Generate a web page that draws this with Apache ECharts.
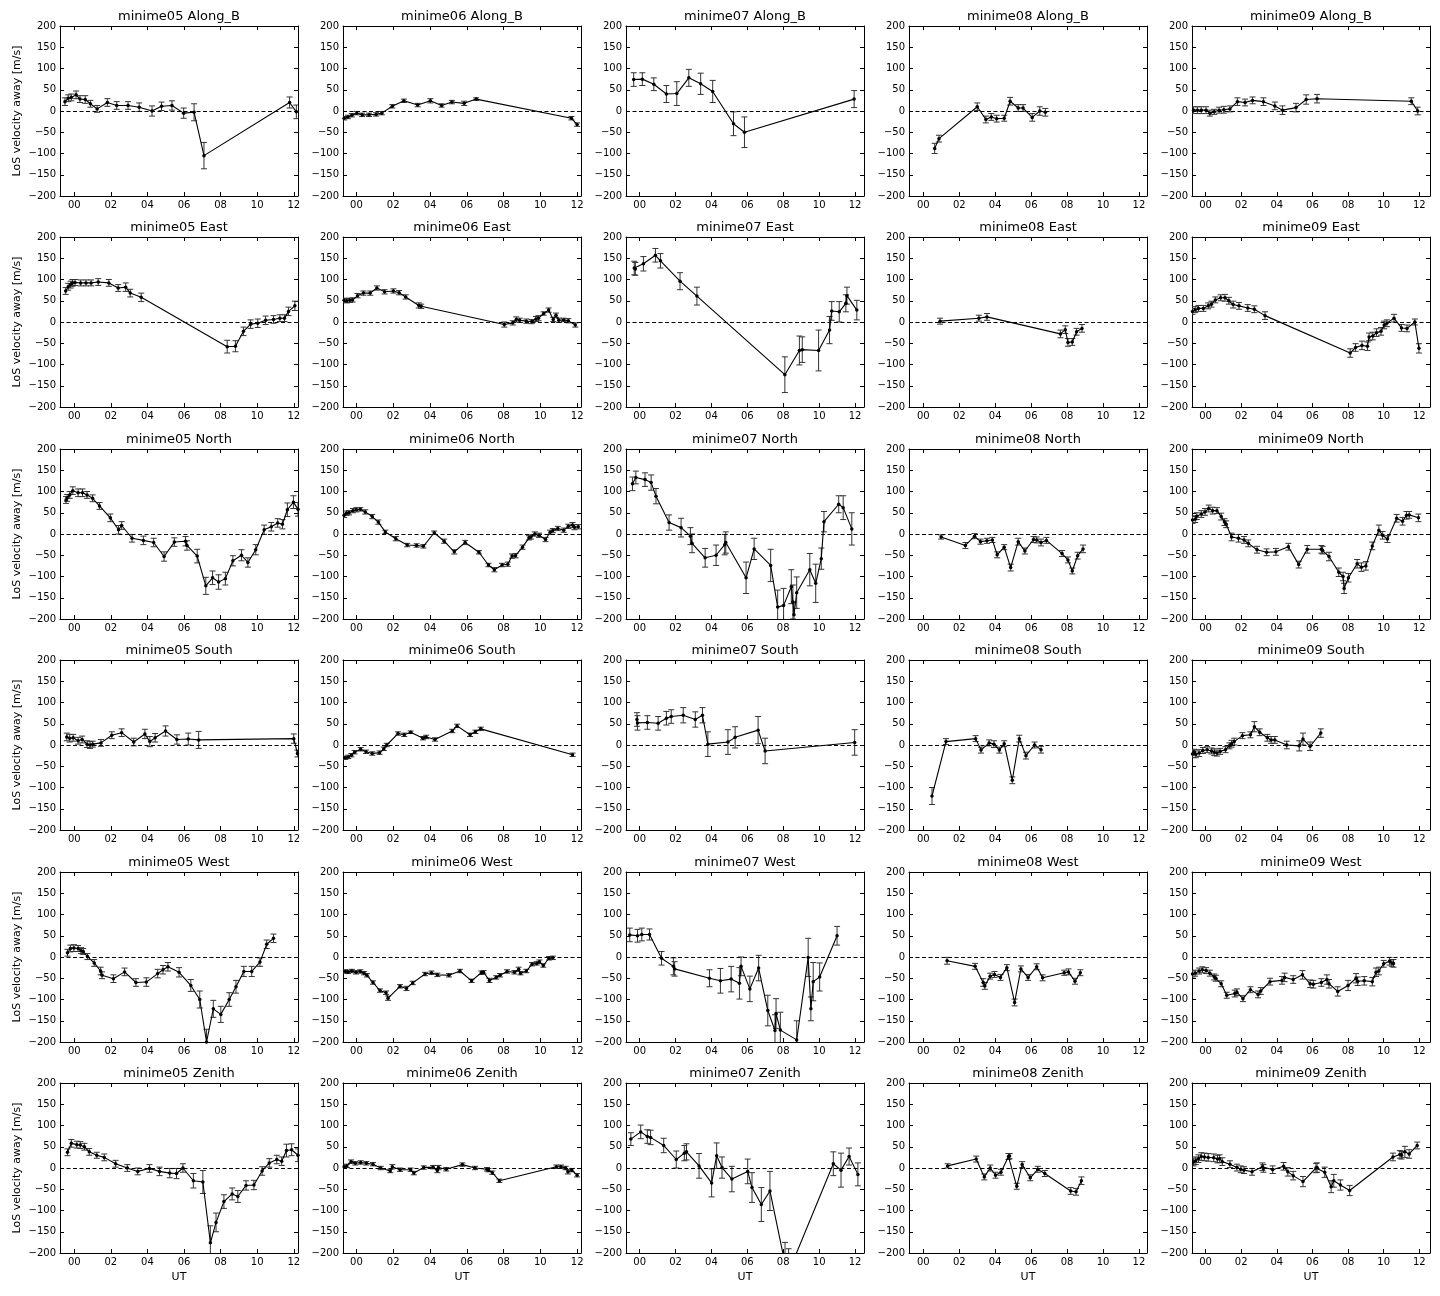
<!DOCTYPE html>
<html><head><meta charset="utf-8">
<script src="https://cdn.jsdelivr.net/npm/echarts@6/dist/echarts.min.js"></script>
<style>html,body{margin:0;padding:0;background:#fff}#c{width:1440px;height:1296px}</style>
</head><body><div id="c"></div>
<script>
const stations = ['minime05','minime06','minime07','minime08','minime09'];
const directions = ['Along_B','East','North','South','West','Zenith'];
const xTicks = [0,2,4,6,8,10,12];
const yMin = -200, yMax = 200, yStep = 50;

// [UT hour, LoS velocity m/s, error m/s]
const m05_Along_B = [[-0.51,22,9],[-0.33,30,8],[-0.16,32,8],[0.10,38,9],[0.31,28,8],[0.60,27,9],[0.88,17,8],[1.25,5,8],[1.81,20,9],[2.32,13,9],[2.94,13,9],[3.55,9,10],[4.25,0,12],[4.77,11,10],[5.34,13,11],[5.98,-5,12],[6.55,-3,20],[7.09,-105,31],[11.77,20,13],[12.14,-2,16]];
const m06_Along_B = [[-0.67,-17,4],[-0.46,-14,4],[-0.25,-10,4],[0.02,-5,4],[0.31,-9,4],[0.69,-9,4],[1.07,-8,4],[1.38,-5,4],[1.95,11,4],[2.58,24,4],[3.33,14,4],[4.02,24,5],[4.63,13,4],[5.19,21,4],[5.86,18,5],[6.51,28,3],[11.69,-17,4],[12.0,-32,4]];
const m07_Along_B = [[-0.33,74,16],[0.15,75,15],[0.79,63,15],[1.49,40,20],[2.07,41,28],[2.74,78,20],[3.4,64,25],[4.07,46,26],[5.23,-30,28],[5.84,-50,36],[11.95,28,20]];
const m08_Along_B = [[0.63,-88,12],[0.87,-65,8],[3.0,10,9],[3.48,-20,8],[3.78,-14,8],[4.08,-18,8],[4.5,-17,7],[4.83,23,9],[5.28,7,8],[5.55,7,8],[6.06,-15,9],[6.48,0,10],[6.79,-3,9]];
const m09_Along_B = [[-0.67,2,8],[-0.46,2,8],[-0.24,2,8],[0.03,2,8],[0.24,-5,7],[0.49,-2,6],[0.76,2,7],[1.03,3,8],[1.37,5,7],[1.79,22,9],[2.22,20,8],[2.64,25,8],[3.25,22,9],[3.89,12,9],[4.32,2,10],[5.08,8,10],[5.65,27,11],[6.26,29,10],[11.55,23,8],[11.91,0,9]];

const m05_East = [[-0.47,73,8],[-0.33,83,8],[-0.2,88,8],[-0.1,92,8],[0.04,93,7],[0.35,92,7],[0.64,92,7],[0.92,92,7],[1.31,94,8],[1.89,92,8],[2.4,80,8],[2.81,82,10],[3.06,68,9],[3.66,58,10],[8.36,-58,15],[8.81,-57,13],[9.25,-22,10],[9.64,-5,10],[10.03,-3,10],[10.46,4,10],[10.89,6,9],[11.24,9,8],[11.49,9,8],[11.71,25,10],[12.06,38,11]];
const m06_East = [[-0.67,51,5],[-0.52,50,5],[-0.36,51,5],[-0.21,52,5],[0.06,62,5],[0.38,68,5],[0.75,68,5],[1.11,80,5],[1.53,71,5],[2.01,73,5],[2.32,69,5],[2.68,59,5],[3.39,39,6],[3.52,37,5],[8.04,-6,6],[8.5,-2,5],[8.69,6,6],[8.88,4,5],[9.24,2,5],[9.53,1,5],[9.76,7,6],[9.9,9,6],[10.18,20,4],[10.45,28,5],[10.7,6,5],[10.85,16,5],[11.0,4,5],[11.27,5,4],[11.52,3,5],[11.9,-7,5]];
const m07_East = [[-0.3,127,16],[-0.24,125,15],[0.21,137,17],[0.88,157,16],[1.16,144,17],[2.25,96,20],[3.19,61,21],[8.09,-124,42],[8.9,-67,34],[9.06,-65,30],[9.97,-67,48],[10.58,-19,32],[10.7,26,22],[11.12,24,24],[11.49,44,20],[11.55,62,20],[12.1,28,23]];
const m08_East = [[0.93,2,7],[3.09,9,7],[3.54,12,8],[7.63,-28,9],[7.9,-18,9],[8.05,-48,9],[8.29,-47,8],[8.53,-23,8],[8.83,-15,9]];
const m09_East = [[-0.73,25,7],[-0.58,29,7],[-0.4,32,7],[-0.12,32,7],[0.15,38,7],[0.33,42,7],[0.55,52,7],[0.85,57,7],[1.09,57,8],[1.31,50,8],[1.55,41,8],[1.88,38,8],[2.37,33,8],[2.74,30,8],[3.34,15,9],[8.12,-73,10],[8.42,-60,9],[8.78,-55,10],[9.09,-57,10],[9.18,-35,9],[9.39,-33,9],[9.6,-25,9],[9.85,-22,9],[10.03,-7,9],[10.18,-3,8],[10.58,9,9],[11.0,-14,8],[11.31,-15,8],[11.75,0,7],[11.98,-62,11]];

const m05_North = [[-0.45,80,8],[-0.39,85,8],[-0.25,92,8],[-0.08,102,9],[0.21,97,9],[0.45,97,9],[0.7,92,8],[1.0,84,8],[1.38,66,8],[1.97,38,9],[2.42,10,10],[2.59,20,9],[3.16,-10,9],[3.78,-15,10],[4.34,-20,10],[4.91,-53,11],[5.47,-19,10],[6.08,-17,11],[6.16,-27,11],[6.72,-52,16],[7.19,-122,20],[7.56,-103,16],[7.89,-113,17],[8.26,-105,15],[8.67,-63,12],[9.14,-50,13],[9.49,-67,11],[9.92,-37,12],[10.38,10,11],[10.77,17,10],[11.12,26,10],[11.38,23,11],[11.65,57,16],[11.98,75,15],[12.23,58,16]];
const m06_North = [[-0.67,44,5],[-0.54,49,5],[-0.4,50,5],[-0.19,55,5],[0,57,5],[0.21,58,4],[0.48,52,5],[0.86,41,5],[1.19,28,5],[1.57,5,4],[2.14,-11,5],[2.76,-26,4],[3.27,-27,4],[3.64,-29,4],[4.23,3,4],[4.77,-17,5],[5.32,-42,5],[5.91,-20,5],[6.66,-43,4],[7.18,-73,4],[7.5,-84,5],[7.92,-73,4],[8.23,-71,5],[8.46,-52,5],[8.65,-51,5],[9.03,-31,5],[9.38,-9,5],[9.49,-7,5],[9.7,0,5],[9.93,-3,5],[10.28,-13,5],[10.53,4,5],[10.68,8,5],[10.95,13,5],[11.27,9,5],[11.52,18,5],[11.75,21,6],[11.85,16,6],[12.06,17,5]];
const m07_North = [[-0.4,118,16],[-0.21,133,15],[0.3,128,16],[0.64,121,18],[0.91,89,18],[1.64,27,18],[2.31,15,22],[2.83,-5,20],[2.92,-22,22],[3.65,-56,22],[4.26,-50,24],[4.74,-25,24],[4.8,-20,25],[5.93,-103,37],[6.38,-35,25],[7.3,-74,38],[7.69,-172,40],[8.02,-168,40],[8.45,-124,40],[8.54,-160,40],[8.6,-190,30],[8.75,-138,37],[9.48,-84,38],[9.81,-116,45],[10.12,-58,25],[10.27,29,24],[11.09,70,20],[11.34,62,28],[11.82,12,38]];
const m08_North = [[0.99,-7,5],[2.34,-27,7],[2.85,-5,6],[3.18,-18,6],[3.54,-16,6],[3.84,-14,6],[4.11,-49,7],[4.5,-31,6],[4.86,-79,8],[5.28,-18,8],[5.65,-40,7],[6.13,-13,7],[6.31,-14,7],[6.55,-20,8],[6.85,-15,7],[7.72,-46,7],[8.05,-61,7],[8.29,-87,7],[8.59,-51,8],[8.89,-35,9]];
const m09_North = [[-0.73,33,8],[-0.58,35,8],[-0.49,42,8],[-0.24,47,8],[-0.03,52,8],[0.18,60,8],[0.4,55,8],[0.64,55,7],[0.88,41,8],[1.06,28,8],[1.16,23,8],[1.46,-7,9],[1.85,-10,9],[2.16,-14,8],[2.4,-22,8],[2.89,-37,8],[3.43,-43,8],[3.95,-42,8],[4.65,-30,8],[5.23,-72,8],[5.71,-36,9],[6.5,-36,9],[6.57,-38,9],[6.93,-53,10],[7.48,-90,10],[7.72,-100,10],[7.78,-128,12],[8.02,-103,10],[8.51,-70,10],[8.75,-78,10],[9.0,-75,10],[9.36,-28,9],[9.73,9,12],[9.94,-3,9],[10.21,-12,8],[10.73,37,9],[11.06,30,9],[11.28,44,9],[11.43,45,8],[11.95,38,9]];

const m05_South = [[-0.41,19,9],[-0.25,16,9],[-0.06,17,8],[0.21,10,8],[0.43,13,8],[0.7,2,8],[0.86,0,8],[1.01,2,7],[1.46,5,8],[2.05,23,8],[2.59,29,9],[3.25,7,9],[3.86,26,11],[4.13,8,12],[4.42,17,10],[4.99,33,12],[5.61,13,11],[6.23,14,14],[6.8,12,20],[12.0,15,11],[12.2,-20,8]];
const m06_South = [[-0.61,-30,4],[-0.44,-28,4],[-0.27,-24,4],[-0.1,-17,4],[0.23,-10,4],[0.52,-16,4],[0.86,-20,4],[1.26,-18,4],[1.49,-9,4],[1.65,0,4],[2.26,27,4],[2.6,24,4],[2.95,30,3],[3.62,16,4],[3.79,19,4],[4.27,13,4],[5.21,33,4],[5.47,45,4],[6.18,24,4],[6.47,31,4],[6.76,38,4],[11.75,-23,4]];
const m07_South = [[-0.15,60,16],[-0.12,52,17],[0.43,53,16],[1.03,51,16],[1.49,63,16],[1.76,67,16],[2.43,70,18],[3.1,60,18],[3.5,70,18],[3.8,2,29],[4.92,7,29],[5.32,18,25],[6.6,35,32],[6.99,-14,30],[11.98,6,30]];
const m08_South = [[0.48,-120,20],[1.26,8,7],[2.91,15,7],[3.21,-12,7],[3.66,5,7],[3.93,2,8],[4.23,-12,7],[4.5,3,7],[4.95,-83,8],[5.34,15,8],[5.71,-25,8],[6.19,0,7],[6.55,-11,8]];
const m09_South = [[-0.73,-21,8],[-0.64,-17,7],[-0.55,-22,8],[-0.36,-19,8],[-0.15,-13,7],[0.09,-11,7],[0.33,-14,7],[0.49,-17,8],[0.64,-19,7],[0.82,-15,7],[1.12,-11,7],[1.34,-2,7],[1.46,3,8],[1.61,8,8],[2.07,22,7],[2.52,24,7],[2.74,43,12],[3.04,30,8],[3.47,17,8],[3.68,12,8],[3.89,12,8],[4.56,0,9],[5.26,-2,12],[5.47,14,14],[5.87,-3,10],[6.47,28,10]];

const m05_West = [[-0.37,10,8],[-0.21,20,8],[-0.02,21,8],[0.21,20,7],[0.37,15,7],[0.49,13,7],[0.72,1,7],[1.09,-14,8],[1.44,-33,9],[1.52,-43,8],[2.14,-51,9],[2.75,-35,9],[3.37,-60,9],[3.94,-59,10],[4.56,-39,10],[4.85,-30,10],[5.12,-23,10],[5.73,-36,11],[6.37,-67,14],[6.86,-100,20],[7.23,-200,30],[7.6,-122,20],[8.01,-135,19],[8.47,-100,16],[8.84,-70,15],[9.27,-34,12],[9.7,-34,12],[10.15,-12,10],[10.52,30,10],[10.89,44,10]];
const m06_West = [[-0.61,-34,4],[-0.46,-35,4],[-0.25,-33,4],[-0.02,-36,4],[0.21,-34,4],[0.42,-38,4],[0.57,-43,4],[0.9,-60,4],[1.28,-79,4],[1.61,-84,4],[1.72,-97,5],[2.37,-69,4],[2.72,-74,5],[3.06,-61,4],[3.73,-40,4],[4.08,-37,4],[4.4,-42,4],[5.03,-43,4],[5.63,-33,4],[6.26,-56,4],[6.79,-37,4],[6.91,-36,4],[7.23,-55,5],[7.6,-48,4],[7.81,-43,4],[8.19,-34,4],[8.59,-36,4],[8.82,-29,5],[8.92,-38,4],[9.24,-33,4],[9.55,-17,4],[9.8,-15,4],[9.95,-11,4],[10.16,-20,4],[10.47,-3,4],[10.68,-2,4]];
const m07_West = [[-0.55,52,16],[-0.12,50,15],[0.12,53,15],[0.55,53,13],[1.22,-3,16],[1.88,-22,20],[1.95,-28,17],[3.89,-50,20],[4.5,-56,29],[5.1,-52,30],[5.56,-62,37],[5.65,-22,22],[6.14,-75,30],[6.63,-26,30],[7.14,-126,36],[7.54,-173,37],[7.6,-133,35],[7.84,-172,42],[8.75,-195,45],[9.39,-1,45],[9.54,-122,28],[9.67,-58,45],[10.03,-47,33],[11.0,50,22]];
const m08_West = [[1.32,-9,8],[2.88,-22,7],[3.33,-60,9],[3.42,-68,8],[3.72,-45,7],[3.96,-41,7],[4.29,-48,7],[4.65,-25,7],[5.08,-107,8],[5.43,-28,7],[5.83,-48,7],[6.31,-23,7],[6.64,-49,7],[7.84,-37,6],[8.08,-35,7],[8.44,-57,7],[8.74,-37,7]];
const m09_West = [[-0.73,-40,7],[-0.58,-38,7],[-0.36,-33,7],[-0.18,-30,7],[0.03,-32,7],[0.24,-38,7],[0.49,-47,7],[0.58,-50,7],[0.88,-63,7],[1.19,-90,7],[1.64,-86,8],[1.76,-83,8],[2.1,-98,7],[2.52,-77,7],[2.95,-88,8],[3.1,-80,8],[3.62,-58,8],[4.29,-55,9],[4.44,-48,10],[4.92,-53,9],[5.44,-42,10],[5.87,-63,9],[6.05,-64,9],[6.5,-60,9],[6.81,-53,11],[6.93,-63,10],[7.42,-81,11],[8.0,-67,12],[8.45,-50,11],[8.54,-57,10],[8.91,-56,10],[9.36,-58,10],[9.57,-36,10],[9.73,-33,9],[10.0,-16,8],[10.33,-10,9],[10.46,-14,8],[10.55,-15,9]];

const m05_Zenith = [[-0.37,37,8],[-0.16,58,9],[0.14,55,8],[0.33,54,8],[0.55,50,8],[0.82,38,8],[1.23,30,7],[1.64,25,8],[2.26,10,8],[2.9,0,8],[3.47,-8,8],[4.11,-1,9],[4.66,-8,10],[5.22,-12,11],[5.59,-13,12],[5.94,0,10],[6.51,-30,17],[7.03,-33,27],[7.44,-176,40],[7.75,-128,22],[8.18,-79,16],[8.63,-61,14],[8.94,-67,14],[9.39,-41,11],[9.82,-40,11],[10.27,-7,10],[10.66,12,10],[11.07,20,10],[11.34,16,10],[11.6,41,15],[11.88,43,14],[12.23,30,15]];
const m06_Zenith = [[-0.67,3,4],[-0.52,5,4],[-0.29,15,4],[-0.06,11,4],[0.23,13,4],[0.54,11,4],[0.9,9,4],[1.32,0,4],[1.84,-7,4],[1.95,3,5],[2.37,-4,4],[2.95,-4,4],[3.12,-12,4],[3.66,1,4],[4.17,2,4],[4.4,-6,5],[4.46,1,5],[4.88,-3,4],[5.76,8,4],[6.45,0,4],[7.1,-3,4],[7.18,-5,4],[7.39,-11,4],[7.77,-30,4],[10.87,3,4],[11.12,3,4],[11.37,0,4],[11.5,-9,5],[11.71,-5,4],[12.0,-17,4]];
const m07_Zenith = [[-0.49,68,15],[0.06,85,16],[0.43,74,16],[0.61,72,17],[1.34,53,17],[2.04,20,20],[2.49,35,18],[2.61,38,19],[3.31,5,29],[4.01,-35,33],[4.29,29,30],[4.59,1,25],[5.14,-26,30],[6.02,-8,29],[6.26,-46,35],[6.78,-86,40],[7.26,-54,46],[8.1,-225,50],[8.3,-245,55],[10.79,10,28],[11.22,-5,40],[11.67,27,20],[12.16,-15,27]];
const m08_Zenith = [[1.35,5,5],[2.94,21,7],[3.39,-21,7],[3.72,0,7],[4.02,-17,7],[4.32,-10,7],[4.74,27,7],[4.8,28,6],[5.2,-43,7],[5.5,8,7],[5.95,-23,7],[6.37,-3,7],[6.76,-13,7],[8.2,-54,8],[8.5,-56,8],[8.8,-30,9]];
const m09_Zenith = [[-0.67,14,9],[-0.55,17,9],[-0.4,22,9],[-0.24,27,9],[-0.06,26,9],[0.15,25,9],[0.46,24,9],[0.67,21,9],[0.79,22,9],[0.94,15,9],[1.37,9,8],[1.76,1,8],[1.98,-3,8],[2.16,-5,8],[2.61,-9,8],[3.19,3,9],[3.25,-1,9],[3.77,-4,9],[4.38,4,9],[4.62,-9,10],[4.92,-18,10],[5.47,-32,12],[6.2,0,11],[6.26,1,11],[6.69,-10,12],[7.05,-44,14],[7.2,-30,15],[7.57,-40,12],[8.09,-53,12],[10.52,26,9],[10.91,32,9],[11.0,30,9],[11.19,38,13],[11.43,33,10],[11.88,53,8]];

const panels = [
  [m05_Along_B, m06_Along_B, m07_Along_B, m08_Along_B, m09_Along_B],
  [m05_East, m06_East, m07_East, m08_East, m09_East],
  [m05_North, m06_North, m07_North, m08_North, m09_North],
  [m05_South, m06_South, m07_South, m08_South, m09_South],
  [m05_West, m06_West, m07_West, m08_West, m09_West],
  [m05_Zenith, m06_Zenith, m07_Zenith, m08_Zenith, m09_Zenith]
];

// layout
const xRanges = [[-0.78,12.23],[-0.73,12.21],[-0.76,12.5],[-0.8,12.45],[-0.76,12.6]];
const L0 = 60, T0 = 26, W = 238, H = 170, DX = 283, DY = 211.4;
const FONT = 'DejaVu Sans';

const grid = [], xAxis = [], yAxis = [], series = [], graphic = [];
const fmtX = v => (v < 10 ? '0' : '') + v;
const fmtY = v => String(v).replace('-', '\u2212');
const axisLineStyle = {show: true, onZero: false, lineStyle: {color: '#000', width: 1}};
const tickStyle = {show: true, inside: true, length: 4, lineStyle: {color: '#000', width: 1}};

directions.forEach((dir, r) => {
  stations.forEach((st, c) => {
    const k = grid.length;
    const left = L0 + c * DX, top = Math.round(T0 + r * DY);
    grid.push({left, top, width: W, height: H, containLabel: false});
    const [xmin, xmax] = xRanges[c];
    xAxis.push({
      type: 'value', gridIndex: k, position: 'bottom', min: xmin, max: xmax,
      axisLine: axisLineStyle, splitLine: {show: false},
      axisTick: Object.assign({}, tickStyle, {customValues: xTicks}),
      axisLabel: {show: true, customValues: xTicks, formatter: fmtX, fontSize: 10, fontFamily: FONT, color: '#000', margin: 4},
      name: r === directions.length - 1 ? 'UT' : '', nameLocation: 'middle', nameGap: 19,
      nameTextStyle: {fontSize: 11, fontFamily: FONT, color: '#000'}
    });
    xAxis.push({
      type: 'value', gridIndex: k, position: 'top', min: xmin, max: xmax,
      axisLine: axisLineStyle, splitLine: {show: false},
      axisTick: Object.assign({}, tickStyle, {customValues: xTicks}),
      axisLabel: {show: false, customValues: xTicks}
    });
    yAxis.push({
      type: 'value', gridIndex: k, position: 'left', min: yMin, max: yMax, interval: yStep,
      axisLine: axisLineStyle, splitLine: {show: false}, axisTick: tickStyle,
      axisLabel: {show: true, formatter: fmtY, fontSize: 10, fontFamily: FONT, color: '#000', margin: 4},
      name: c === 0 ? 'LoS velocity away [m/s]' : '', nameLocation: 'middle', nameRotate: 90, nameGap: 37,
      nameTextStyle: {fontSize: 11, fontFamily: FONT, color: '#000'}
    });
    yAxis.push({
      type: 'value', gridIndex: k, position: 'right', min: yMin, max: yMax, interval: yStep,
      axisLine: axisLineStyle, splitLine: {show: false}, axisTick: tickStyle,
      axisLabel: {show: false}
    });
    const data = panels[r][c];
    series.push({
      type: 'line', xAxisIndex: 2 * k, yAxisIndex: 2 * k,
      data: data.map(d => [d[0], d[1]]), clip: true,
      symbol: 'circle', symbolSize: 3.5, showSymbol: true,
      itemStyle: {color: '#000'}, lineStyle: {color: '#000', width: 1.1},
      silent: true,
      markLine: {silent: true, symbol: ['none', 'none'], label: {show: false},
        lineStyle: {color: '#000', type: [4, 2.5], width: 1}, data: [{yAxis: 0}]}
    });
    series.push({
      type: 'custom', xAxisIndex: 2 * k, yAxisIndex: 2 * k, clip: true, silent: true,
      data: data, encode: {x: 0, y: 1},
      renderItem: (params, api) => {
        const x = api.value(0), y = api.value(1), e = api.value(2);
        const p1 = api.coord([x, y + e]), p2 = api.coord([x, y - e]);
        const hw = 3, st = {stroke: '#333', lineWidth: 1};
        return {type: 'group', children: [
          {type: 'line', shape: {x1: p1[0], y1: p1[1], x2: p2[0], y2: p2[1]}, style: st},
          {type: 'line', shape: {x1: p1[0] - hw, y1: p1[1], x2: p1[0] + hw, y2: p1[1]}, style: st},
          {type: 'line', shape: {x1: p2[0] - hw, y1: p2[1], x2: p2[0] + hw, y2: p2[1]}, style: st}
        ]};
      }
    });
    graphic.push({
      type: 'text', x: left + W / 2, y: top - 9, silent: true,
      style: {text: st + ' ' + dir, fontSize: 13, fontFamily: FONT, fill: '#000',
        textAlign: 'center', textVerticalAlign: 'middle'}
    });
  });
});

const chart = echarts.init(document.getElementById('c'), null, {renderer: 'canvas'});
chart.setOption({animation: false, backgroundColor: '#fff', grid, xAxis, yAxis, series, graphic});
</script></body></html>
